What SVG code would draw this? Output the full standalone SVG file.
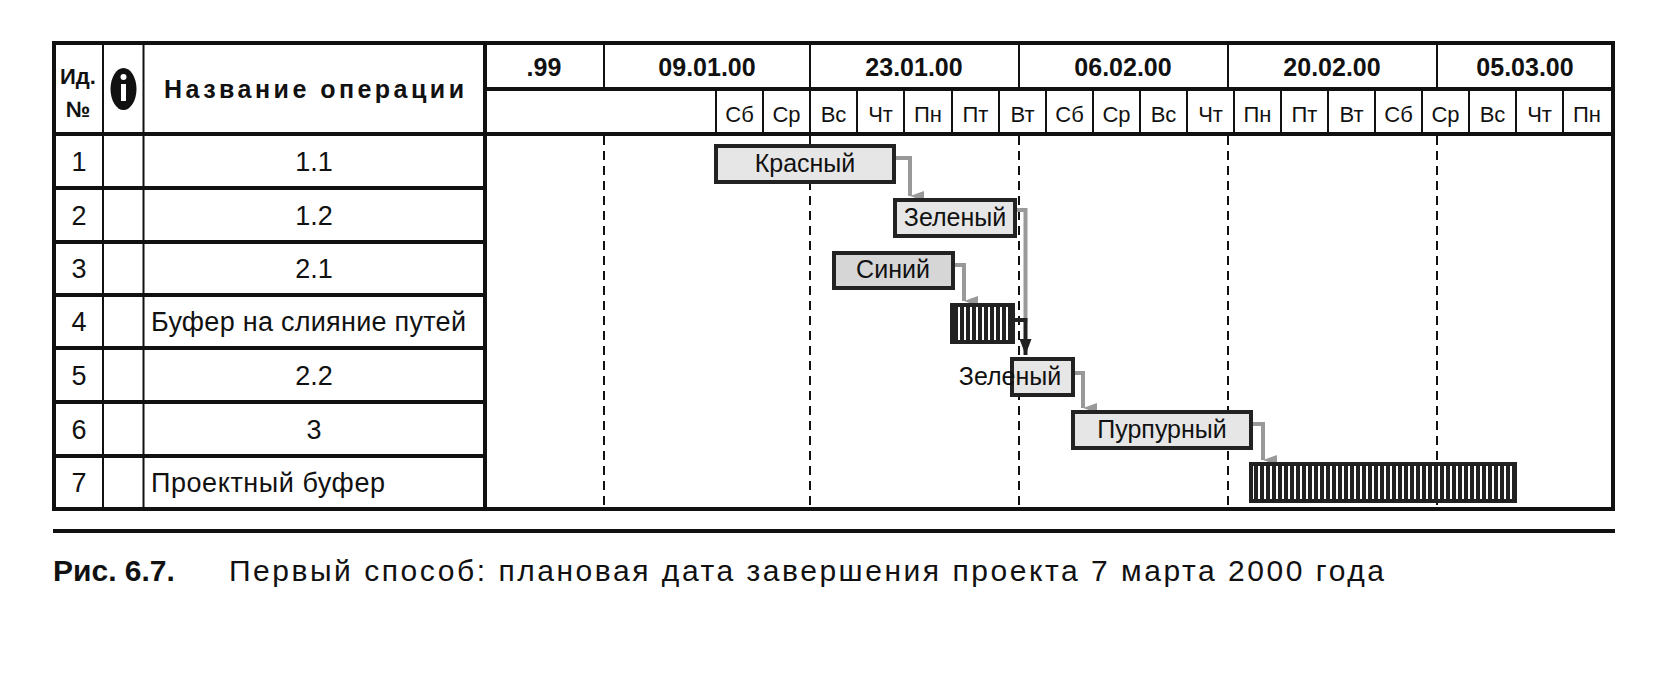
<svg xmlns="http://www.w3.org/2000/svg" width="1667" height="675" viewBox="0 0 1667 675">
<style>
text{font-family:"Liberation Sans","Noto Sans",sans-serif;fill:#111}
.b{font-weight:bold}
.c{text-anchor:middle}
.hd{font-size:25px;font-weight:bold;text-anchor:middle}
.dy{font-size:22px;text-anchor:middle}
.rt{font-size:27px}
.thin{stroke:#111;stroke-width:2;fill:none}
.thick{stroke:#111;stroke-width:4;fill:none}
.dash{stroke:#111;stroke-width:2;stroke-dasharray:9,6}
.task{fill:#e6e6e6;stroke:#222;stroke-width:4}
.bl{fill:#d6d6d6;stroke:#222;stroke-width:4}
.buf{fill:url(#stripes);stroke:#222;stroke-width:4}
.lk{fill:none;stroke:#999;stroke-width:4}
.lkb{fill:none;stroke:#222;stroke-width:4}
.bt{font-size:25px;text-anchor:middle}
</style>
<defs>
<pattern id="stripes" width="6" height="10" patternUnits="userSpaceOnUse">
<rect width="6" height="10" fill="#222"/><rect x="4" width="2" height="10" fill="#fff"/>
</pattern>
<marker id="ag" markerWidth="10" markerHeight="14" refX="5" refY="14" orient="auto-start-reverse" markerUnits="userSpaceOnUse" viewBox="0 0 10 14"><path d="M0,0 L10,0 L5,14 Z" fill="#999" transform="rotate(0)"/></marker>
<marker id="ab" markerWidth="12" markerHeight="16" refX="6" refY="16" markerUnits="userSpaceOnUse" viewBox="0 0 12 16"><path d="M0,0 L12,0 L6,16 Z" fill="#222"/></marker>
</defs>

<g id="table">
<rect x="54" y="43" width="1559" height="466" class="thick" stroke-width="5"/>
<line x1="103" y1="43" x2="103" y2="509" class="thin"/>
<line x1="143.5" y1="43" x2="143.5" y2="509" class="thin"/>
<line x1="485" y1="43" x2="485" y2="509" class="thick"/>
<line x1="54" y1="134" x2="1613" y2="134" class="thick" stroke-width="5"/>
<line x1="485" y1="89" x2="1613" y2="89" class="thick"/>
<g class="thick">
<line x1="54" y1="188" x2="485" y2="188"/><line x1="54" y1="242" x2="485" y2="242"/>
<line x1="54" y1="295" x2="485" y2="295"/><line x1="54" y1="348" x2="485" y2="348"/>
<line x1="54" y1="402" x2="485" y2="402"/><line x1="54" y1="456" x2="485" y2="456"/>
</g>
<g class="thin">
<line x1="604" y1="43" x2="604" y2="89"/><line x1="810" y1="43" x2="810" y2="89"/>
<line x1="1019" y1="43" x2="1019" y2="89"/><line x1="1228" y1="43" x2="1228" y2="89"/>
<line x1="1437" y1="43" x2="1437" y2="89"/>
<line x1="716" y1="89" x2="716" y2="134"/><line x1="763" y1="89" x2="763" y2="134"/><line x1="810" y1="89" x2="810" y2="134"/>
<line x1="857" y1="89" x2="857" y2="134"/><line x1="904" y1="89" x2="904" y2="134"/><line x1="952" y1="89" x2="952" y2="134"/>
<line x1="999" y1="89" x2="999" y2="134"/><line x1="1046" y1="89" x2="1046" y2="134"/><line x1="1093" y1="89" x2="1093" y2="134"/>
<line x1="1140" y1="89" x2="1140" y2="134"/><line x1="1187" y1="89" x2="1187" y2="134"/><line x1="1234" y1="89" x2="1234" y2="134"/>
<line x1="1281" y1="89" x2="1281" y2="134"/><line x1="1328" y1="89" x2="1328" y2="134"/><line x1="1375" y1="89" x2="1375" y2="134"/>
<line x1="1422" y1="89" x2="1422" y2="134"/><line x1="1469" y1="89" x2="1469" y2="134"/><line x1="1516" y1="89" x2="1516" y2="134"/>
<line x1="1563" y1="89" x2="1563" y2="134"/>
</g>
<g class="dash">
<line x1="604" y1="136" x2="604" y2="507"/><line x1="810" y1="136" x2="810" y2="507"/>
<line x1="1019" y1="136" x2="1019" y2="507"/><line x1="1228" y1="136" x2="1228" y2="507"/>
<line x1="1437" y1="136" x2="1437" y2="507"/>
</g>
<text x="78" y="84" class="b c" font-size="22">Ид.</text>
<text x="78" y="117" class="b c" font-size="22">№</text>
<ellipse cx="123.5" cy="89" rx="13" ry="21" fill="#111"/>
<rect x="121" y="84" width="5" height="17" fill="#fff"/><circle cx="123.5" cy="77" r="3" fill="#fff"/>
<text x="314" y="98" class="hd" textLength="300">Название операции</text>
<text x="544" y="76" class="hd">.99</text>
<text x="707" y="76" class="hd">09.01.00</text>
<text x="914" y="76" class="hd">23.01.00</text>
<text x="1123" y="76" class="hd">06.02.00</text>
<text x="1332" y="76" class="hd">20.02.00</text>
<text x="1525" y="76" class="hd">05.03.00</text>
<g class="dy">
<text x="739.5" y="122">Сб</text><text x="786.5" y="122">Ср</text><text x="833.5" y="122">Вс</text>
<text x="880.5" y="122">Чт</text><text x="928" y="122">Пн</text><text x="975.5" y="122">Пт</text>
<text x="1022.5" y="122">Вт</text><text x="1069.5" y="122">Сб</text><text x="1116.5" y="122">Ср</text>
<text x="1163.5" y="122">Вс</text><text x="1210.5" y="122">Чт</text><text x="1257.5" y="122">Пн</text>
<text x="1304.5" y="122">Пт</text><text x="1351.5" y="122">Вт</text><text x="1398.5" y="122">Сб</text>
<text x="1445.5" y="122">Ср</text><text x="1492.5" y="122">Вс</text><text x="1539.5" y="122">Чт</text>
<text x="1587" y="122">Пн</text>
</g>
<g class="rt">
<text x="79" y="171" class="c">1</text><text x="314" y="171" class="c">1.1</text>
<text x="79" y="225" class="c">2</text><text x="314" y="225" class="c">1.2</text>
<text x="79" y="278" class="c">3</text><text x="314" y="278" class="c">2.1</text>
<text x="79" y="331" class="c">4</text><text x="151" y="331" textLength="315">Буфер на слияние путей</text>
<text x="79" y="385" class="c">5</text><text x="314" y="385" class="c">2.2</text>
<text x="79" y="439" class="c">6</text><text x="314" y="439" class="c">3</text>
<text x="79" y="492" class="c">7</text><text x="151" y="492" textLength="234">Проектный буфер</text>
</g>
</g>

<g id="connectors">
<path d="M894,158 H910 V196" class="lk" marker-end="url(#ag)"/>
<path d="M1015,210 H1025.5 V322" class="lk"/>
<path d="M953,265 H964 V301" class="lk" marker-end="url(#ag)"/>
<path d="M1013,320 H1025.5 V355" class="lkb" marker-end="url(#ab)"/>
<path d="M1073,373 H1083 V408" class="lk" marker-end="url(#ag)"/>
<path d="M1251,424 H1263 V460" class="lk" marker-end="url(#ag)"/>
</g>

<g id="t11"><rect x="716" y="146" width="178" height="36" class="task"/><text x="805" y="172" class="bt">Красный</text></g>
<g id="t12"><rect x="895" y="200" width="120" height="36" class="task"/><text x="955" y="226" class="bt">Зеленый</text></g>
<g id="t21"><rect x="834" y="253" width="119" height="35" class="bl"/><text x="893" y="278" class="bt">Синий</text></g>
<g id="buf1"><rect x="952" y="305" width="61" height="37" class="buf"/></g>
<g id="t22"><rect x="1012" y="359" width="61" height="36" class="task"/><text x="1010" y="385" class="bt">Зеленый</text></g>
<g id="t3"><rect x="1073" y="412" width="178" height="36" class="task"/><text x="1162" y="438" class="bt">Пурпурный</text></g>
<g id="buf2"><rect x="1251" y="464" width="264" height="37" class="buf"/></g>

<line x1="53" y1="531" x2="1615" y2="531" stroke="#111" stroke-width="4"/>
<text x="53" y="581" font-size="30" class="b">Рис. 6.7.</text>
<text x="229" y="581" font-size="30" textLength="1155">Первый способ: плановая дата завершения проекта 7 марта 2000 года</text>
</svg>
